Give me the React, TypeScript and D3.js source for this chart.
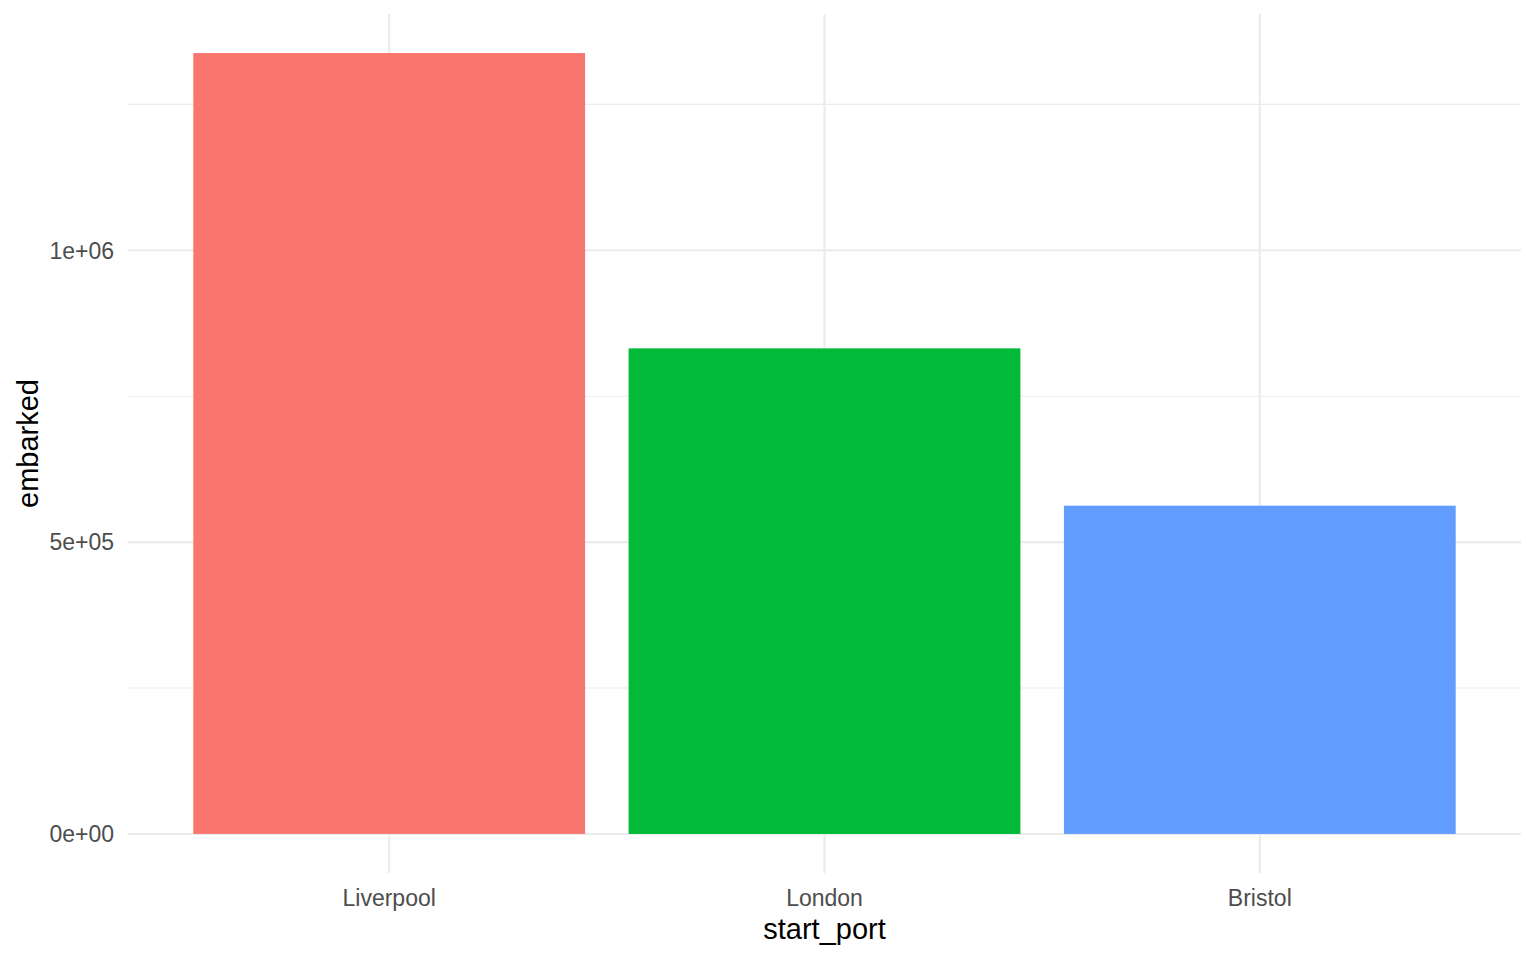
import React, { useEffect, useRef } from 'react';
import * as d3 from 'd3';

const ports = ['Liverpool', 'London', 'Bristol'];
const embarked = [1338000, 832000, 562500];
const portColors = ['#F8766D', '#00BA38', '#619CFF'];
const yTicks = [0, 500000, 1000000];
const yMinorTicks = [250000, 750000, 1250000];

const WIDTH = 1536;
const HEIGHT = 960;
const margin = { top: 14, right: 15, bottom: 87, left: 128 };

const App: React.FC = () => {
  const ref = useRef<SVGSVGElement | null>(null);

  useEffect(() => {
    if (!ref.current) return;
    const svg = d3.select<SVGSVGElement, unknown>(ref.current);
    svg.selectAll('*').remove();

    const x0 = margin.left;
    const x1 = WIDTH - margin.right;
    const y0 = HEIGHT - margin.bottom;
    const y1 = margin.top;

    // discrete scale expanded 0.6 units on each side, bars 0.9 wide
    const xPos = d3.scaleLinear().domain([0.4, ports.length + 0.6]).range([x0, x1]);
    const maxV = d3.max(embarked) as number;
    const y = d3.scaleLinear().domain([-0.05 * maxV, maxV * 1.05]).range([y0, y1]);

    const font = '"Liberation Sans", Arial, sans-serif';
    const grid = svg.append('g');

    grid
      .selectAll('line.minor')
      .data(yMinorTicks)
      .enter()
      .append('line')
      .attr('x1', x0)
      .attr('x2', x1)
      .attr('y1', (d: number) => y(d))
      .attr('y2', (d: number) => y(d))
      .attr('stroke', '#EBEBEB')
      .attr('stroke-width', 1.1);

    grid
      .selectAll('line.major-y')
      .data(yTicks)
      .enter()
      .append('line')
      .attr('x1', x0)
      .attr('x2', x1)
      .attr('y1', (d: number) => y(d))
      .attr('y2', (d: number) => y(d))
      .attr('stroke', '#EBEBEB')
      .attr('stroke-width', 2.1);

    grid
      .selectAll('line.major-x')
      .data(ports)
      .enter()
      .append('line')
      .attr('x1', (_d: string, i: number) => xPos(i + 1))
      .attr('x2', (_d: string, i: number) => xPos(i + 1))
      .attr('y1', y0)
      .attr('y2', y1)
      .attr('stroke', '#EBEBEB')
      .attr('stroke-width', 2.1);

    svg
      .append('g')
      .selectAll('rect')
      .data(embarked)
      .enter()
      .append('rect')
      .attr('x', (_d: number, i: number) => xPos(i + 1 - 0.45))
      .attr('width', xPos(0.9) - xPos(0))
      .attr('y', (d: number) => y(d))
      .attr('height', (d: number) => y(0) - y(d))
      .attr('fill', (_d: number, i: number) => portColors[i]);

    const fmt = (v: number) => (v === 0 ? '0e+00' : v === 500000 ? '5e+05' : '1e+06');

    svg
      .append('g')
      .selectAll('text')
      .data(yTicks)
      .enter()
      .append('text')
      .attr('x', 114)
      .attr('y', (d: number) => y(d))
      .attr('dy', '0.36em')
      .attr('text-anchor', 'end')
      .attr('font-family', font)
      .attr('font-size', 23)
      .attr('fill', '#4D4D4D')
      .text(fmt);

    svg
      .append('g')
      .selectAll('text')
      .data(ports)
      .enter()
      .append('text')
      .attr('x', (_d: string, i: number) => xPos(i + 1))
      .attr('y', 906)
      .attr('text-anchor', 'middle')
      .attr('font-family', font)
      .attr('font-size', 23)
      .attr('fill', '#4D4D4D')
      .text((d: string) => d);

    svg
      .append('text')
      .attr('x', (x0 + x1) / 2)
      .attr('y', 939)
      .attr('text-anchor', 'middle')
      .attr('font-family', font)
      .attr('font-size', 29)
      .attr('fill', '#000000')
      .text('start_port');

    svg
      .append('text')
      .attr('transform', `translate(38, ${(y0 + y1) / 2}) rotate(-90)`)
      .attr('text-anchor', 'middle')
      .attr('font-family', font)
      .attr('font-size', 29)
      .attr('fill', '#000000')
      .text('embarked');
  }, []);

  return (
    <div style={{ position: 'absolute', left: 0, top: 0, width: WIDTH, height: HEIGHT, background: '#fff' }}>
      <svg ref={ref} width={WIDTH} height={HEIGHT} />
    </div>
  );
};

export default App;
